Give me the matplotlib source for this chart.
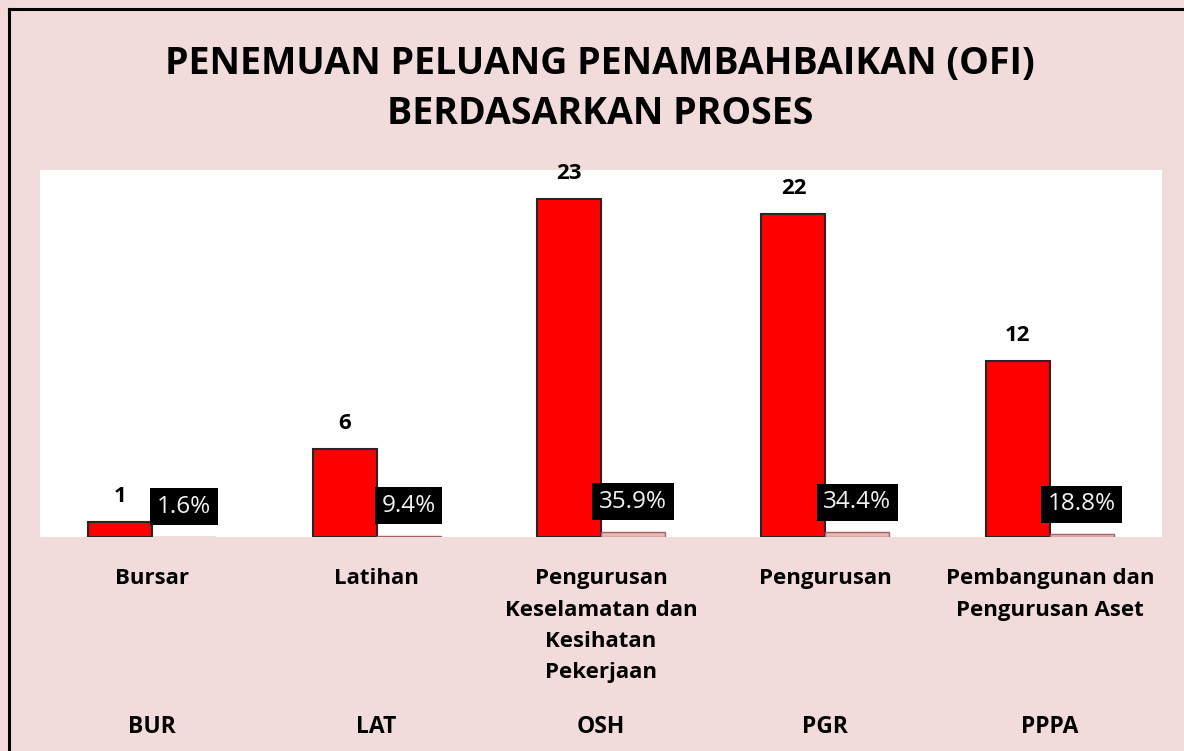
import matplotlib.pyplot as plt
from matplotlib.lines import Line2D
import numpy as np

# Datos del gráfico
kod = ["BUR", "LAT", "OSH", "PGR", "PPPA"]
proses = ["Bursar", "Latihan", "Pengurusan\nKeselamatan dan\nKesihatan\nPekerjaan",
          "Pengurusan", "Pembangunan dan\nPengurusan Aset"]
bil_ofi = [1, 6, 23, 22, 12]
peratus = [0.016, 0.094, 0.359, 0.344, 0.188]

FONDO = "#F2DCDB"
FUENTE = "Open Sans"

fig = plt.figure(figsize=(11.84, 7.51), dpi=100, facecolor=FONDO)
ax = fig.add_axes([40/1184, (751-537)/751, 1122/1184, 367/751])
ax.set_facecolor("white")

x = np.arange(len(kod))
ancho = 0.285
ax.bar(x - ancho/2, bil_ofi, ancho, color="#FF0000", edgecolor="#262626", lw=1.5, zorder=3)
ax.bar(x + ancho/2, peratus, ancho, color="#E6B9B8", edgecolor="#A86060", lw=1, zorder=3)

ax.set_xlim(-0.5, len(kod) - 0.5)
ax.set_ylim(0, 25)
for s in ax.spines.values():
    s.set_visible(False)
ax.set_xticks([])
ax.set_yticks([])

# Etiquetas de valores
for xi, v in zip(x, bil_ofi):
    ax.annotate(str(v), (xi - ancho/2, v), xytext=(0, 18.5), textcoords="offset points",
                ha="center", va="center", fontsize=16, fontweight="bold", family=FUENTE)

for xi, p in zip(x, peratus):
    ax.annotate(f"{p*100:.1f}%", (xi + ancho/2, p), xytext=(0, 21.5), textcoords="offset points",
                ha="center", va="center", fontsize=17.5, color="#F2F2F2", family=FUENTE, zorder=5,
                bbox=dict(boxstyle="square,pad=0.27", facecolor="black", edgecolor="none"))

# Nombres de procesos y códigos
for xi, nombre, k in zip(x, proses, kod):
    ax.text(xi, -0.085, nombre, transform=ax.get_xaxis_transform(), ha="center", va="top",
            fontsize=16, fontweight="bold", family=FUENTE, linespacing=1.65)
    fig.text((40 + 224.4*(xi + 0.5))/1184, 1 - 727/751, k, ha="center", va="center",
             fontsize=16.5, fontweight="bold", family=FUENTE)

fig.text(0.507, 1 - 89/751, "PENEMUAN PELUANG PENAMBAHBAIKAN (OFI)\nBERDASARKAN PROSES",
         ha="center", va="center", fontsize=27, fontweight="bold", family=FUENTE, linespacing=1.38)

# Marco
fig.add_artist(Line2D([9/1184, 9/1184], [0, 1 - 9/751], color="black", lw=2.2, transform=fig.transFigure))
fig.add_artist(Line2D([9/1184, 1], [1 - 9/751, 1 - 9/751], color="black", lw=2.2, transform=fig.transFigure))

fig.savefig("out.png", dpi=100, facecolor=FONDO)
